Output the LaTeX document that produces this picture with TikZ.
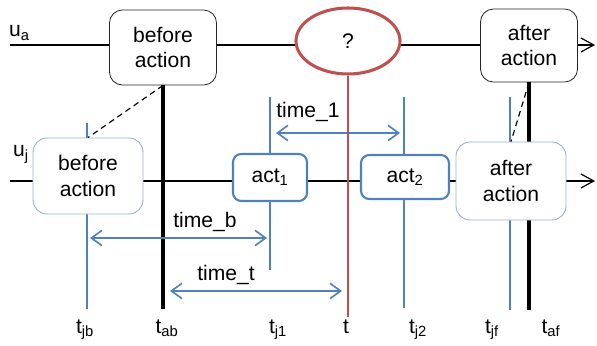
\documentclass[tikz,border=0pt]{standalone}
\usepackage{fontspec}
\setmainfont{Liberation Sans}
\usetikzlibrary{arrows.meta,shapes.geometric}
\definecolor{lineB}{HTML}{4F81BD}
\definecolor{boxL}{HTML}{95B3D7}
\definecolor{qred}{HTML}{C0504D}

\begin{document}
\begin{tikzpicture}[x=0.03cm,y=-0.03cm,
  font=\fontsize{18}{21.5}\selectfont,
  abox/.style={draw=black!85,line width=0.7pt,rounded corners=11pt,fill=white,
               align=center,inner sep=0pt},
  jbox/.style={draw=boxL,line width=0.8pt,rounded corners=12pt,fill=white,
               align=center,inner sep=0pt,minimum width=3.3cm},
  actbox/.style={draw=lineB,line width=1.8pt,rounded corners=7pt,fill=white,inner sep=0pt},
  tline/.style={lineB,line width=1.4pt},
  aline/.style={black,line width=3.4pt},
  link/.style={black,line width=1pt,dash pattern=on 5pt off 3.5pt},
  span/.style={lineB,line width=1.4pt,
               {Straight Barb[length=9pt,width=13pt]}-{Straight Barb[length=9pt,width=13pt]}},
  uline/.style={black,line width=1pt,-{Straight Barb[length=11pt,width=12pt]}},
  lab/.style={anchor=base,inner sep=0pt}]

\useasboundingbox (0,0) rectangle (597,346);

% time marks
\coordinate (jbT) at (87,123);  \coordinate (jbB) at (87,309);
\coordinate (j1T) at (270,97);  \coordinate (j1B) at (270,270);
\coordinate (j2T) at (404,97);  \coordinate (j2B) at (404,308);
\coordinate (jfT) at (510,97);  \coordinate (jfB) at (510,310);
\coordinate (abB) at (163,309);
\coordinate (afB) at (529,310);
\coordinate (tB) at (348,317);

\draw[tline] (jbT) -- (jbB);
\draw[tline] (j1T) -- (j1B);
\draw[tline] (j2T) -- (j2B);
\draw[tline] (jfT) -- (jfB);

% the two actors
\coordinate (ua0) at (10,45);  \coordinate (ua1) at (595,45);
\coordinate (uj0) at (10,181); \coordinate (uj1) at (595,181);
\draw[uline] (ua0) -- (ua1);
\draw[uline] (uj0) -- (uj1);
\node[lab,anchor=base west] (ua) at (9,37) {u\textsubscript{a}};
\node[lab,anchor=base west] (uj) at (13,157) {u\textsubscript{j}};

\node[abox,minimum width=3.21cm,minimum height=2.25cm] (topB) at (163,47.5) {before\\action};
\node[abox,minimum width=2.91cm,minimum height=2.19cm] (topA) at (529,45.5) {after\\action};
\node[ellipse,draw=qred,line width=2.6pt,fill=white,minimum width=3.12cm,minimum height=1.98cm,
      inner sep=0pt] (ques) at (348,41) {?};

\draw[aline] (topB.south) -- (abB);
\draw[aline] (topA.south |- 0,82) -- (afB);

\node[jbox,minimum height=2.28cm] (lowB) at (88,176) {before\\action};
\node[jbox,minimum height=2.34cm] (lowA) at (511,181) {after\\action};
\node[actbox,minimum width=2.22cm,minimum height=1.41cm] (act1) at (270,177.5) {act\textsubscript{1}};
\node[actbox,minimum width=2.64cm,minimum height=1.32cm] (act2) at (405,177) {act\textsubscript{2}};

\draw[link] (topB.south) -- (lowB.north);
\draw[link] (topA.south) -- (lowA.north);

% intervals
\coordinate (s1a) at (276,133); \coordinate (s1b) at (400,133);
\coordinate (sba) at (90,238);  \coordinate (sbb) at (267,238);
\coordinate (sta) at (170,291); \coordinate (stb) at (342,291);
\draw[span] (s1a) -- (s1b);
\draw[span] (sba) -- (sbb);
\draw[span] (sta) -- (stb);
\node[lab] (time1) at (308,118) {time\_1};
\node[lab] (timeb) at (205,228) {time\_b};
\node[lab] (timet) at (226,280) {time\_t};

\draw[qred,line width=1.4pt] (ques.south) -- (tB);

\node[lab] (ljb) at (85,333) {t\textsubscript{jb}};
\node[lab] (lab) at (167,333) {t\textsubscript{ab}};
\node[lab] (lj1) at (278,333) {t\textsubscript{j1}};
\node[lab] (lt) at (346,333) {t};
\node[lab] (lj2) at (418,333) {t\textsubscript{j2}};
\node[lab] (ljf) at (492,333) {t\textsubscript{jf}};
\node[lab] (laf) at (551,333) {t\textsubscript{af}};
\end{tikzpicture}
\end{document}
